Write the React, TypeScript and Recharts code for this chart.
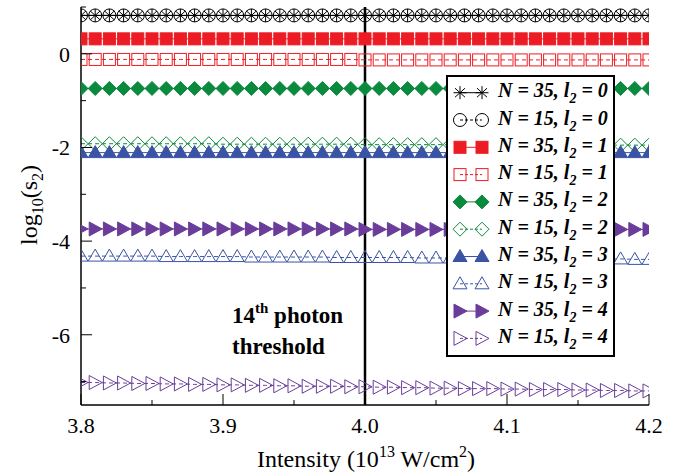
import React from 'react';
import { LineChart, Line, XAxis, YAxis, ReferenceLine } from 'recharts';

// intensity in 10^13 W/cm^2
const intensity = [
  3.8, 3.81, 3.82, 3.83, 3.84, 3.85, 3.86, 3.87, 3.88, 3.89,
  3.9, 3.91, 3.92, 3.93, 3.94, 3.95, 3.96, 3.97, 3.98, 3.99,
  4.0, 4.01, 4.02, 4.03, 4.04, 4.05, 4.06, 4.07, 4.08, 4.09,
  4.1, 4.11, 4.12, 4.13, 4.14, 4.15, 4.16, 4.17, 4.18, 4.19, 4.2,
];

// log10(s2) for each case
const n35l0 = [
  0.82, 0.82, 0.82, 0.82, 0.82, 0.82, 0.82, 0.82, 0.82, 0.82,
  0.82, 0.82, 0.82, 0.82, 0.82, 0.82, 0.82, 0.82, 0.82, 0.82,
  0.82, 0.82, 0.82, 0.82, 0.82, 0.82, 0.82, 0.82, 0.82, 0.82,
  0.82, 0.82, 0.82, 0.82, 0.82, 0.82, 0.82, 0.82, 0.82, 0.82, 0.82,
];
const n15l0 = [
  0.82, 0.82, 0.82, 0.82, 0.82, 0.82, 0.82, 0.82, 0.82, 0.82,
  0.82, 0.82, 0.82, 0.82, 0.82, 0.82, 0.82, 0.82, 0.82, 0.82,
  0.82, 0.82, 0.82, 0.82, 0.82, 0.82, 0.82, 0.82, 0.82, 0.82,
  0.82, 0.82, 0.82, 0.82, 0.82, 0.82, 0.82, 0.82, 0.82, 0.82, 0.82,
];
const n35l1 = [
  0.32, 0.32, 0.32, 0.32, 0.32, 0.32, 0.32, 0.32, 0.32, 0.32,
  0.32, 0.32, 0.32, 0.32, 0.32, 0.32, 0.32, 0.32, 0.32, 0.32,
  0.32, 0.32, 0.32, 0.32, 0.32, 0.32, 0.32, 0.32, 0.32, 0.32,
  0.32, 0.32, 0.32, 0.32, 0.32, 0.32, 0.32, 0.32, 0.32, 0.32, 0.32,
];
const n15l1 = [
  -0.12, -0.12, -0.12, -0.12, -0.12, -0.12, -0.12, -0.12, -0.12, -0.12,
  -0.12, -0.12, -0.12, -0.12, -0.12, -0.12, -0.12, -0.12, -0.12, -0.12,
  -0.13, -0.13, -0.13, -0.13, -0.13, -0.13, -0.13, -0.13, -0.13, -0.13,
  -0.13, -0.13, -0.13, -0.13, -0.13, -0.13, -0.13, -0.13, -0.13, -0.13, -0.13,
];
const n35l2 = [
  -0.74, -0.74, -0.74, -0.74, -0.74, -0.74, -0.74, -0.74, -0.74, -0.74,
  -0.74, -0.74, -0.74, -0.74, -0.74, -0.74, -0.74, -0.74, -0.74, -0.74,
  -0.74, -0.74, -0.74, -0.74, -0.74, -0.74, -0.74, -0.74, -0.74, -0.74,
  -0.74, -0.74, -0.74, -0.74, -0.74, -0.74, -0.74, -0.74, -0.74, -0.74, -0.74,
];
const n15l2 = [
  -1.92, -1.92, -1.92, -1.92, -1.92, -1.92, -1.92, -1.92, -1.92, -1.92,
  -1.93, -1.93, -1.93, -1.93, -1.93, -1.93, -1.93, -1.93, -1.93, -1.93,
  -1.94, -1.94, -1.94, -1.94, -1.94, -1.94, -1.94, -1.94, -1.94, -1.94,
  -1.95, -1.95, -1.95, -1.95, -1.95, -1.95, -1.95, -1.95, -1.95, -1.95, -1.95,
];
const n35l3 = [
  -2.11, -2.11, -2.11, -2.11, -2.11, -2.11, -2.11, -2.11, -2.11, -2.11,
  -2.11, -2.11, -2.11, -2.11, -2.11, -2.11, -2.11, -2.11, -2.11, -2.11,
  -2.11, -2.11, -2.11, -2.11, -2.11, -2.11, -2.11, -2.11, -2.11, -2.11,
  -2.11, -2.11, -2.11, -2.11, -2.11, -2.11, -2.11, -2.11, -2.11, -2.11, -2.11,
];
const n15l3 = [
  -4.32, -4.32, -4.32, -4.32, -4.32, -4.32, -4.33, -4.33, -4.33, -4.33,
  -4.33, -4.33, -4.34, -4.34, -4.34, -4.34, -4.34, -4.34, -4.35, -4.35,
  -4.35, -4.35, -4.35, -4.35, -4.36, -4.36, -4.36, -4.36, -4.36, -4.36,
  -4.37, -4.37, -4.37, -4.37, -4.37, -4.38, -4.38, -4.38, -4.38, -4.39, -4.39,
];
const n35l4 = [
  -3.74, -3.74, -3.74, -3.74, -3.74, -3.74, -3.74, -3.74, -3.74, -3.74,
  -3.74, -3.74, -3.74, -3.74, -3.74, -3.74, -3.74, -3.74, -3.74, -3.74,
  -3.75, -3.75, -3.75, -3.75, -3.75, -3.75, -3.75, -3.75, -3.75, -3.75,
  -3.75, -3.75, -3.75, -3.75, -3.75, -3.75, -3.75, -3.75, -3.75, -3.75, -3.75,
];
const n15l4 = [
  -7.02, -7.02, -7.03, -7.03, -7.04, -7.04, -7.05, -7.05, -7.06, -7.06,
  -7.07, -7.07, -7.08, -7.08, -7.09, -7.09, -7.1, -7.1, -7.1, -7.11,
  -7.11, -7.12, -7.12, -7.13, -7.13, -7.14, -7.14, -7.15, -7.15, -7.15,
  -7.16, -7.16, -7.17, -7.17, -7.17, -7.18, -7.18, -7.19, -7.19, -7.2, -7.2,
];

const xTicks = [3.8, 3.85, 3.9, 3.95, 4.0, 4.05, 4.1, 4.15, 4.2];
const yTicks = [-7, -6, -5, -4, -3, -2, -1, 0, 1];
const xLabels = ['3.8', '3.9', '4.0', '4.1', '4.2'];
const yLabels = ['-6', '-4', '-2', '0'];

const series = [
  { key: 'n35l0', n: '35', l: '0', color: '#000000', shape: 'star', filled: false, dashed: false },
  { key: 'n15l0', n: '15', l: '0', color: '#000000', shape: 'circle', filled: false, dashed: true },
  { key: 'n35l1', n: '35', l: '1', color: '#ed1c24', shape: 'square', filled: true, dashed: false },
  { key: 'n15l1', n: '15', l: '1', color: '#ed1c24', shape: 'square', filled: false, dashed: true },
  { key: 'n35l2', n: '35', l: '2', color: '#0a8a3e', shape: 'diamond', filled: true, dashed: false },
  { key: 'n15l2', n: '15', l: '2', color: '#0a8a3e', shape: 'diamond', filled: false, dashed: true },
  { key: 'n35l3', n: '35', l: '3', color: '#3a53a4', shape: 'up', filled: true, dashed: false },
  { key: 'n15l3', n: '15', l: '3', color: '#3a53a4', shape: 'up', filled: false, dashed: true },
  { key: 'n35l4', n: '35', l: '4', color: '#6a3d9a', shape: 'right', filled: true, dashed: false },
  { key: 'n15l4', n: '15', l: '4', color: '#6a3d9a', shape: 'right', filled: false, dashed: true },
];

const data = intensity.map((x, i) => ({
  x,
  n35l0: n35l0[i], n15l0: n15l0[i],
  n35l1: n35l1[i], n15l1: n15l1[i],
  n35l2: n35l2[i], n15l2: n15l2[i],
  n35l3: n35l3[i], n15l3: n15l3[i],
  n35l4: n35l4[i], n15l4: n15l4[i],
}));

const SERIF = 'Liberation Serif, Tinos, Times New Roman, Times, DejaVu Serif, serif';

const Marker = ({ shape, cx, cy, color, filled }: any) => {
  const fill = filled ? color : 'none';
  switch (shape) {
    case 'star':
      return (
        <g stroke={color} strokeWidth={1}>
          <line x1={cx} y1={cy - 6.5} x2={cx} y2={cy + 6.5} />
          <line x1={cx - 5} y1={cy - 4.5} x2={cx + 5} y2={cy + 4.5} />
          <line x1={cx - 5} y1={cy + 4.5} x2={cx + 5} y2={cy - 4.5} />
          <line x1={cx - 6.5} y1={cy} x2={cx + 6.5} y2={cy} />
        </g>
      );
    case 'circle':
      return <circle cx={cx} cy={cy} r={6.5} fill="none" stroke={color} strokeWidth={1} />;
    case 'square':
      return <rect x={cx - 6} y={cy - 6} width={12} height={12} fill={fill} stroke={color} strokeWidth={1} />;
    case 'diamond':
      return (
        <polygon
          points={`${cx},${cy - 7} ${cx + 7},${cy} ${cx},${cy + 7} ${cx - 7},${cy}`}
          fill={fill} stroke={color} strokeWidth={1}
        />
      );
    case 'up':
      return (
        <polygon
          points={`${cx},${cy - 7} ${cx + 7},${cy + 5} ${cx - 7},${cy + 5}`}
          fill={fill} stroke={color} strokeWidth={1}
        />
      );
    default:
      return (
        <polygon
          points={`${cx + 7},${cy} ${cx - 6},${cy - 7} ${cx - 6},${cy + 7}`}
          fill={fill} stroke={color} strokeWidth={1}
        />
      );
  }
};

const isMajorX = (v: number) => Math.abs(v * 10 - Math.round(v * 10)) < 1e-6;
const isMajorY = (v: number) => Math.round(v) % 2 === 0;

const BottomTick = ({ x, y, payload }: any) => {
  const major = isMajorX(payload.value);
  const label = xLabels.find((t) => Math.abs(parseFloat(t) - payload.value) < 1e-6);
  return (
    <g>
      <line x1={x} x2={x} y1={y} y2={y - (major ? 11 : 5)} stroke="#000" />
      {label && (
        <text x={x} y={y + 28} textAnchor="middle" fontSize={22} fontFamily={SERIF} fill="#000">
          {label}
        </text>
      )}
    </g>
  );
};

const TopTick = ({ x, y, payload }: any) => {
  const major = isMajorX(payload.value);
  return <line x1={x} x2={x} y1={y} y2={y + (major ? 11 : 5)} stroke="#000" />;
};

const LeftTick = ({ x, y, payload }: any) => {
  const major = isMajorY(payload.value);
  const label = yLabels.find((t) => parseFloat(t) === payload.value);
  return (
    <g>
      <line x1={x} x2={x + (major ? 11 : 5)} y1={y} y2={y} stroke="#000" />
      {label && (
        <text x={x - 11} y={y + 8} textAnchor="end" fontSize={22} fontFamily={SERIF} fill="#000">
          {label}
        </text>
      )}
    </g>
  );
};

const RightTick = ({ x, y, payload }: any) => {
  const major = isMajorY(payload.value);
  return <line x1={x} x2={x - (major ? 11 : 6)} y1={y} y2={y} stroke="#000" />;
};

const Legend = () => {
  const left = 447;
  const top = 76;
  return (
    <g>
      <rect x={left} y={top} width={167} height={280} fill="#fff" stroke="#000" strokeWidth={2} />
      {series.map((s, i) => {
        const cy = 92.7 + i * 27.3;
        return (
          <g key={s.key}>
            <line
              x1={460} x2={482} y1={cy} y2={cy} stroke={s.color} strokeWidth={1}
              strokeDasharray={s.dashed ? '3 2' : undefined}
            />
            <Marker shape={s.shape} cx={460} cy={cy} color={s.color} filled={s.filled} />
            <Marker shape={s.shape} cx={482} cy={cy} color={s.color} filled={s.filled} />
            <text x={498} y={cy + 4.5} fontSize={20} fontFamily={SERIF} fontWeight="bold" fontStyle="italic" fill="#000">
              {`N = ${s.n}, l`}
              <tspan dy={6} fontSize={14}>2</tspan>
              <tspan dy={-6}>{` = ${s.l}`}</tspan>
            </text>
          </g>
        );
      })}
    </g>
  );
};

const App = () => {
  return (
    <div style={{ position: 'absolute', left: 0, top: 0, width: 691, height: 476, background: '#fff', fontFamily: SERIF }}>
      <LineChart width={691} height={476} data={data} margin={{ top: 7, right: 42, bottom: 0, left: 0 }}>
        <XAxis
          dataKey="x" type="number" domain={[3.8, 4.2]} ticks={xTicks} interval={0}
          height={71} tickSize={0} tickMargin={0} tickLine={false} tick={<BottomTick />}
          axisLine={{ stroke: '#000', strokeWidth: 1.5 }} allowDataOverflow
        />
        <XAxis
          xAxisId="top" orientation="top" dataKey="x" type="number" domain={[3.8, 4.2]} ticks={xTicks}
          interval={0} height={0} tickSize={0} tickMargin={0} tickLine={false} tick={<TopTick />}
          axisLine={{ stroke: '#000', strokeWidth: 1.5 }} allowDataOverflow
        />
        <YAxis
          type="number" domain={[-7.5, 1]} ticks={yTicks} interval={0} width={81}
          tickSize={0} tickMargin={0} tickLine={false} tick={<LeftTick />}
          axisLine={{ stroke: '#000', strokeWidth: 1.5 }} allowDataOverflow
        />
        <YAxis
          yAxisId="right" orientation="right" type="number" domain={[-7.5, 1]} ticks={yTicks}
          interval={0} width={0} tickSize={0} tickMargin={0} tickLine={false} tick={<RightTick />}
          axisLine={{ stroke: '#000', strokeWidth: 1.5 }} allowDataOverflow
        />
        <ReferenceLine x={4.0} stroke="#000" strokeWidth={2.5} />
        {series.map((s) => (
          <Line
            key={s.key}
            dataKey={s.key}
            stroke={s.color}
            strokeWidth={1}
            strokeDasharray={s.dashed ? '4 3' : undefined}
            isAnimationActive={false}
            activeDot={false}
            dot={(p: any) => (
              <Marker key={`${s.key}-${p.index}`} shape={s.shape} cx={p.cx} cy={p.cy} color={s.color} filled={s.filled} />
            )}
          />
        ))}
      </LineChart>
      <svg width={691} height={476} style={{ position: 'absolute', left: 0, top: 0, pointerEvents: 'none' }}>
        <Legend />
        <text x={232} y={323} fontSize={23} fontWeight="bold" fontFamily={SERIF} fill="#000">
          14<tspan dy={-10} fontSize={15}>th</tspan>
          <tspan dy={10}> photon</tspan>
        </text>
        <text x={232} y={354} fontSize={23} fontWeight="bold" fontFamily={SERIF} fill="#000">
          threshold
        </text>
        <text x={366} y={467} textAnchor="middle" fontSize={24} fontFamily={SERIF} fill="#000">
          Intensity (10<tspan dy={-10} fontSize={16}>13</tspan>
          <tspan dy={10}> W/cm</tspan>
          <tspan dy={-10} fontSize={16}>2</tspan>
          <tspan dy={10}>)</tspan>
        </text>
        <text transform="translate(37,205) rotate(-90)" textAnchor="middle" fontSize={24} fontFamily={SERIF} fill="#000">
          log<tspan dy={6} fontSize={16}>10</tspan>
          <tspan dy={-6}>(s</tspan>
          <tspan dy={6} fontSize={16}>2</tspan>
          <tspan dy={-6}>)</tspan>
        </text>
      </svg>
    </div>
  );
};

export default App;
